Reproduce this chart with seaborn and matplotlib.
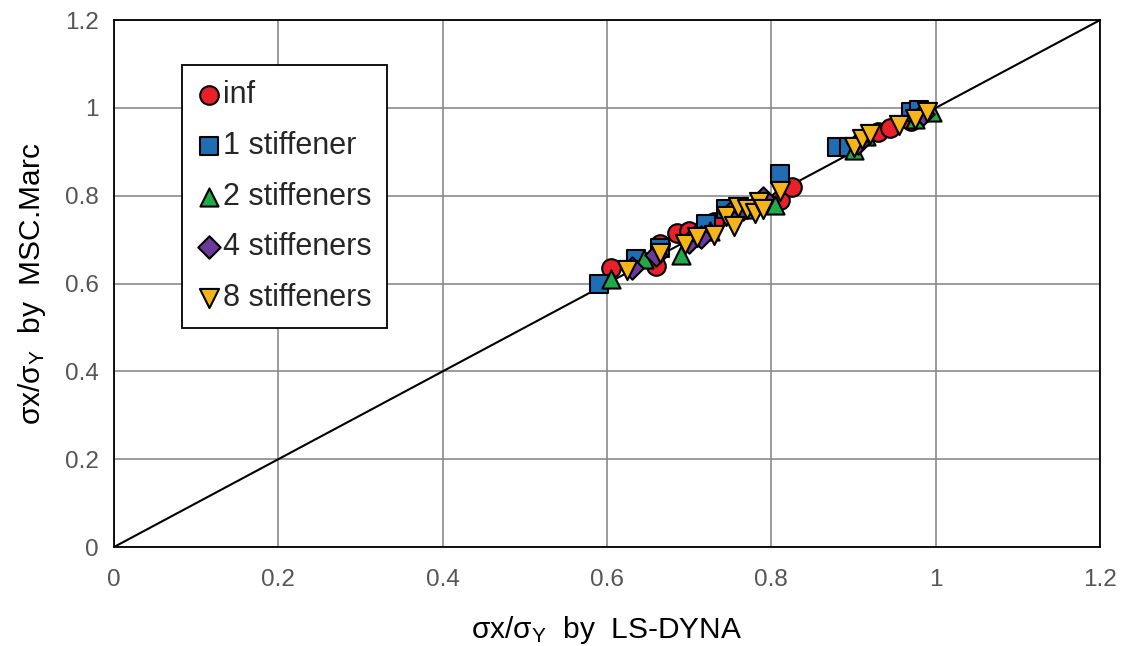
import matplotlib
matplotlib.use("Agg")
import matplotlib.pyplot as plt
import seaborn as sns
import pandas as pd

# ---- data ----
inf_x = [0.605, 0.66, 0.665, 0.685, 0.70, 0.715, 0.73, 0.75, 0.81, 0.825, 0.93, 0.945, 0.97]
inf_y = [0.635, 0.64, 0.69, 0.715, 0.72, 0.715, 0.74, 0.77, 0.79, 0.82, 0.945, 0.955, 0.97]
s1_x = [0.59, 0.635, 0.665, 0.72, 0.745, 0.81, 0.88, 0.895, 0.97, 0.98]
s1_y = [0.60, 0.655, 0.68, 0.735, 0.77, 0.85, 0.91, 0.91, 0.99, 0.995]
s2_x = [0.605, 0.645, 0.69, 0.725, 0.77, 0.805, 0.90, 0.915, 0.975, 0.995]
s2_y = [0.61, 0.655, 0.665, 0.72, 0.77, 0.78, 0.905, 0.935, 0.975, 0.99]
s4_x = [0.63, 0.66, 0.70, 0.715, 0.75, 0.765, 0.79, 0.905, 0.985]
s4_y = [0.635, 0.665, 0.695, 0.705, 0.76, 0.77, 0.795, 0.92, 0.985]
s8_x = [0.625, 0.665, 0.695, 0.71, 0.73, 0.745, 0.755, 0.76, 0.77, 0.78, 0.785, 0.79, 0.81, 0.90, 0.91, 0.92, 0.955, 0.975, 0.99]
s8_y = [0.63, 0.67, 0.69, 0.705, 0.71, 0.755, 0.73, 0.775, 0.77, 0.76, 0.785, 0.77, 0.81, 0.91, 0.93, 0.94, 0.96, 0.975, 0.99]

series = ["inf", "1 stiffener", "2 stiffeners", "4 stiffeners", "8 stiffeners"]
xs = [inf_x, s1_x, s2_x, s4_x, s8_x]
ys = [inf_y, s1_y, s2_y, s4_y, s8_y]
colors = ["#E8202A", "#1F6EB5", "#22A94A", "#6A3A9A", "#F4B41A"]
markers = ["o", "s", "^", "D", "v"]
sizes = [180, 180, 170, 130, 190]

ticks = [0, 0.2, 0.4, 0.6, 0.8, 1.0, 1.2]
tick_labels = ["0", "0.2", "0.4", "0.6", "0.8", "1", "1.2"]

sns.set_style("white")
plt.rcParams["font.family"] = ["Liberation Sans", "DejaVu Sans"]
plt.rcParams["mathtext.default"] = "regular"

fig = plt.figure(figsize=(11.26, 6.46), dpi=100)
ax = fig.add_axes([0.101, 0.153, 0.876, 0.816])

ax.plot([0, 1.2], [0, 1.2], color="black", lw=1.5, zorder=2)

for name, x, y, c, m, s in zip(series, xs, ys, colors, markers, sizes):
    df = pd.DataFrame({"x": x, "y": y})
    sns.scatterplot(data=df, x="x", y="y", ax=ax, color=c, marker=m, s=s,
                    edgecolor="black", linewidth=1.5, label=name, zorder=3)

ax.set_xlim(0, 1.2)
ax.set_ylim(0, 1.2)
ax.set_xticks(ticks)
ax.set_xticklabels(tick_labels)
ax.set_yticks(ticks)
ax.set_yticklabels(tick_labels)
ax.tick_params(axis="both", labelsize=17.5, colors="#555555", length=0)
ax.tick_params(axis="x", pad=16)
ax.tick_params(axis="y", pad=11)
ax.grid(True, color="#8a8a8a", lw=1.2)
ax.set_axisbelow(True)
for sp in ax.spines.values():
    sp.set_color("black")
    sp.set_linewidth(1.3)

ax.set_xlabel("σx/σ$_Y$  by  LS-DYNA", fontsize=21.5, color="black", labelpad=16)
ax.set_ylabel("σx/σ$_Y$  by  MSC.Marc", fontsize=21.5, color="black", labelpad=12)

leg = ax.legend(loc="upper left", bbox_to_anchor=(0.069, 0.915), borderaxespad=0,
                fontsize=22, frameon=True, fancybox=False, edgecolor="black",
                framealpha=1, handletextpad=0.05, handlelength=0.8,
                labelspacing=0.68, borderpad=0.5, markerscale=1.0)
leg.get_frame().set_linewidth(1.3)

fig.savefig("out.png", dpi=100)
